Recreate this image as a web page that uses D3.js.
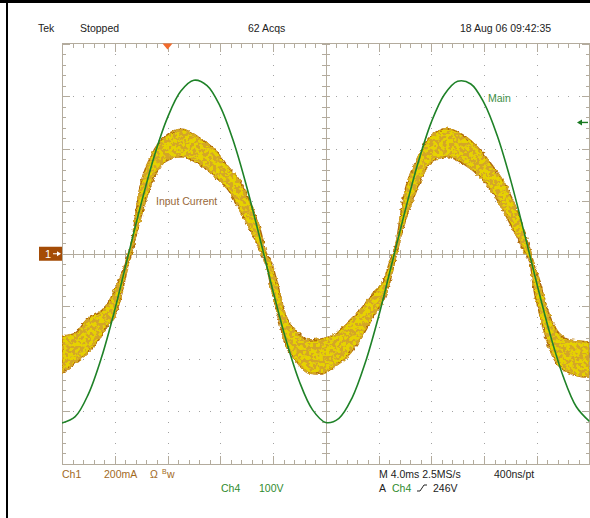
<!DOCTYPE html>
<meta charset="utf-8" />
<script src="https://d3js.org/d3.v7.min.js"></script>
<style>
  body { margin: 0; background: #fff; }
  text { font-family: "Liberation Sans", Arial, sans-serif; font-size: 10.5px; }
</style>
<svg width="590" height="518" id="scope"></svg>
<script>
  // Ch4 "Main" voltage (V), 4 ms/div
  var mainT = [0,1,2,3,4,5,6,7,8,9,10,11,12,13,14,15,16,17,18,19,20,
               21,22,23,24,25,26,27,28,29,30,31,32,33,34,35,36,37,38,39,40];
  var mainV = [-322,-310,-267,-197,-107,-5,95,186,259,309,330,320,280,214,128,30,
               -71,-165,-243,-297,-321,-313,-274,-207,-120,-20,80,173,250,303,328,
               323,287,225,142,45,-56,-152,-233,-291,-319];

  // Ch1 input current envelope (mA), persistence band: top and bottom edge
  var curT  = [0,1,2,2.9,3.5,4,4.55,5,5.3,5.8,6.8,7.8,9.1,10.3,11.6,12.6,13.6,14.4,15.1,
               15.4,15.9,16.4,16.9,17.7,18.7,19.6,20.6,21.6,22.6,23.6,24.4,24.9,
               25.3,25.9,26.9,27.9,29.2,30.4,31.7,32.7,33.7,34.5,35.2,
               35.5,35.7,36.2,36.75,37.5,38.5,39.8,40];
  var curHi = [-313,-302,-244,-222,-187,-138,-73,-5,52,223,376,446,474,445,395,331,268,179,79,
               14,-35,-126,-225,-290,-328,-324,-309,-264,-214,-149,-100,-24,
               33,217,357,445,477,452,395,331,255,166,65,
               14,-24,-100,-203,-290,-328,-336,-340];
  var curLo = [-454,-416,-373,-320,-271,-240,-149,-47,7,106,269,350,369,344,293,243,154,78,3,
               -24,-138,-240,-339,-404,-454,-458,-431,-393,-328,-240,-176,-100,
               -16,103,243,344,369,344,293,230,141,65,-5,
               -31,-111,-225,-328,-416,-454,-469,-469];

  // readouts
  var topLabels = [["Tek", 38], ["Stopped", 80], ["62 Acqs", 248], ["18 Aug 06 09:42:35", 460]];
  var trigTime = 8, trigLevel = 246;

  var svg = d3.select("svg");
  var X0 = 62, X1 = 589.5, Y0 = 43.5, Y1 = 464;

  var x = d3.scaleLinear().domain([0, 40]).range([X0, X1]);
  var yV = d3.scaleLinear().domain([-400, 400]).range([Y1, Y0]);
  var yI = d3.scaleLinear().domain([-800, 800]).range([Y1, Y0]);

  var ruler = "#b3ab9d", dotC = "#a3a3a3";

  // photo frame
  svg.append("rect").attr("x", 0).attr("y", 0).attr("width", 590).attr("height", 3).style("fill", "#000");
  svg.append("rect").attr("x", 6).attr("y", 0).attr("width", 2).attr("height", 518).style("fill", "#000");

  var grid = svg.append("g").attr("shape-rendering", "crispEdges");

  // dotted graticule
  var majT = d3.range(4, 40, 4).filter(function (d) { return d != 20; });
  var majV = [-300, -200, -100, 100, 200, 300];
  var minT = d3.range(0.8, 40, 0.8), minV = d3.range(-380, 400, 20);
  majT.forEach(function (t) {
    grid.selectAll(null).data(minV).enter().append("rect")
      .attr("x", Math.round(x(t))).attr("y", function (d) { return Math.round(yV(d)); })
      .attr("width", 1).attr("height", 1).style("fill", dotC);
  });
  majV.forEach(function (v) {
    grid.selectAll(null).data(minT).enter().append("rect")
      .attr("x", function (d) { return Math.round(x(d)); }).attr("y", Math.round(yV(v)))
      .attr("width", 1).attr("height", 1).style("fill", dotC);
  });

  // border rulers
  grid.append("rect").attr("x", X0).attr("y", Y0).attr("width", X1 - X0).attr("height", Y1 - Y0)
    .style("fill", "none").style("stroke", ruler);
  var allT = d3.range(0, 40.01, 0.8), allV = d3.range(-400, 400.01, 20);
  function isMaj(v, step) { return Math.abs(v / step - Math.round(v / step)) < 0.01; }
  allT.forEach(function (t) {
    var L = isMaj(t, 4) ? 8 : 4;
    var xx = Math.round(x(t)) + 0.5;
    grid.append("line").attr("x1", xx).attr("x2", xx).attr("y1", Y0).attr("y2", Y0 + L).style("stroke", ruler);
    grid.append("line").attr("x1", xx).attr("x2", xx).attr("y1", Y1).attr("y2", Y1 - L).style("stroke", ruler);
    grid.append("line").attr("x1", xx).attr("x2", xx).attr("y1", yV(0) - 4).attr("y2", yV(0) + 4).style("stroke", ruler);
  });
  allV.forEach(function (v) {
    var L = isMaj(v, 100) ? 8 : 4;
    var yy = Math.round(yV(v)) + 0.5;
    grid.append("line").attr("y1", yy).attr("y2", yy).attr("x1", X0).attr("x2", X0 + L).style("stroke", ruler);
    grid.append("line").attr("y1", yy).attr("y2", yy).attr("x1", X1).attr("x2", X1 - L).style("stroke", ruler);
    grid.append("line").attr("y1", yy).attr("y2", yy).attr("x1", x(20) - 4).attr("x2", x(20) + 4).style("stroke", ruler);
  });
  grid.append("line").attr("x1", X0).attr("x2", X1).attr("y1", Math.round(yV(0)) + 0.5).attr("y2", Math.round(yV(0)) + 0.5).style("stroke", ruler);
  grid.append("line").attr("y1", Y0).attr("y2", Y1).attr("x1", Math.round(x(20)) + 0.5).attr("x2", Math.round(x(20)) + 0.5).style("stroke", ruler);

  // speckle texture + ragged edge for the persistence band
  var defs = svg.append("defs");
  defs.append("clipPath").attr("id", "plot").append("rect")
    .attr("x", X0).attr("y", Y0).attr("width", X1 - X0).attr("height", Y1 - Y0);
  var f = defs.append("filter").attr("id", "speck").attr("filterUnits", "userSpaceOnUse")
    .attr("x", 0).attr("y", 0).attr("width", 590).attr("height", 518);
  f.append("feTurbulence").attr("type", "fractalNoise").attr("baseFrequency", 0.35)
    .attr("numOctaves", 1).attr("seed", 3).attr("result", "n1");
  f.append("feDisplacementMap").attr("in", "SourceGraphic").attr("in2", "n1").attr("scale", 4)
    .attr("xChannelSelector", "R").attr("yChannelSelector", "G").attr("result", "d");
  f.append("feTurbulence").attr("type", "fractalNoise").attr("baseFrequency", 0.3)
    .attr("numOctaves", 2).attr("seed", 7).attr("result", "n");
  f.append("feColorMatrix").attr("in", "n").attr("type", "matrix")
    .attr("values", "0 0 0 0 0.66  0 0 0 0 0.38  0 0 0 0 0.02  14 0 0 0 -6.6").attr("result", "sp");
  f.append("feComposite").attr("in", "sp").attr("in2", "d").attr("operator", "in").attr("result", "spc");
  var mg = f.append("feMerge");
  mg.append("feMergeNode").attr("in", "d");
  mg.append("feMergeNode").attr("in", "spc");

  var plot = svg.append("g").attr("clip-path", "url(#plot)");

  var band = d3.area()
    .x(function (d, i) { return x(curT[i]); })
    .y0(function (d, i) { return yI(curLo[i]); })
    .y1(function (d, i) { return yI(curHi[i]); })
    .curve(d3.curveMonotoneX);
  plot.append("path").datum(curT).attr("d", band)
    .style("fill", "#e6d200").style("stroke", "#b06a0c").style("stroke-width", 1.5)
    .attr("filter", "url(#speck)");

  var line = d3.line()
    .x(function (d, i) { return x(mainT[i]); })
    .y(function (d, i) { return yV(mainV[i]); })
    .curve(d3.curveCatmullRom);
  plot.append("path").datum(mainT).attr("d", line)
    .style("fill", "none").style("stroke", "#1f8228").style("stroke-width", 1.6);

  // waveform labels
  svg.append("text").attr("x", 156).attr("y", 205).text("Input Current").style("fill", "#9a6a3a");
  svg.append("text").attr("x", 488).attr("y", 102).text("Main").style("fill", "#3f8f46");

  // trigger position marker (top) and level arrow (right)
  var tx = x(trigTime);
  svg.append("path").attr("d", "M" + (tx - 5) + "," + Y0 + "L" + (tx + 5) + "," + Y0 + "L" + tx + "," + (Y0 + 6) + "Z")
    .style("fill", "#f26a2c");
  var ty = yV(trigLevel) - 2;
  svg.append("line").attr("x1", 579).attr("x2", 588).attr("y1", ty).attr("y2", ty).style("stroke", "#1a7a22").style("stroke-width", 1.4);
  svg.append("path").attr("d", "M577," + ty + "L582," + (ty - 3) + "L582," + (ty + 3) + "Z").style("fill", "#1a7a22");

  // channel 1 ground marker
  var gy = yI(0);
  svg.append("rect").attr("x", 39).attr("y", gy - 7).attr("width", 23).attr("height", 14).style("fill", "#a44c06");
  svg.append("text").attr("x", 45).attr("y", gy + 4).text("1").style("fill", "#fff").style("font-size", "11px");
  svg.append("line").attr("x1", 53).attr("x2", 59).attr("y1", gy).attr("y2", gy).style("stroke", "#fff");
  svg.append("path").attr("d", "M61," + gy + "L57," + (gy - 2.5) + "L57," + (gy + 2.5) + "Z").style("fill", "#fff");

  // top readout
  topLabels.forEach(function (d) {
    svg.append("text").attr("x", d[1]).attr("y", 31.5).text(d[0]).style("fill", "#222");
  });

  // bottom readout
  var brown = "#a26a1e", green = "#2e8b2e";
  svg.append("text").attr("x", 62).attr("y", 478).text("Ch1").style("fill", brown);
  svg.append("text").attr("x", 104).attr("y", 478).text("200mA").style("fill", brown);
  svg.append("text").attr("x", 150).attr("y", 478).text("\u03a9").style("fill", brown);
  svg.append("text").attr("x", 162).attr("y", 474).text("B").style("fill", brown).style("font-size", "7px");
  svg.append("text").attr("x", 167).attr("y", 478).text("w").style("fill", brown);
  svg.append("text").attr("x", 221).attr("y", 492).text("Ch4").style("fill", green);
  svg.append("text").attr("x", 259).attr("y", 492).text("100V").style("fill", green);
  svg.append("text").attr("x", 379).attr("y", 478).text("M 4.0ms 2.5MS/s").style("fill", "#222");
  svg.append("text").attr("x", 494).attr("y", 478).text("400ns/pt").style("fill", "#222");
  svg.append("text").attr("x", 379).attr("y", 492).text("A").style("fill", "#222");
  svg.append("text").attr("x", 392).attr("y", 492).text("Ch4").style("fill", green);
  svg.append("path").attr("d", "M417,491L420,491L424,485L427,485").style("fill", "none").style("stroke", "#222");
  svg.append("text").attr("x", 433).attr("y", 492).text("246V").style("fill", "#222");
</script>
